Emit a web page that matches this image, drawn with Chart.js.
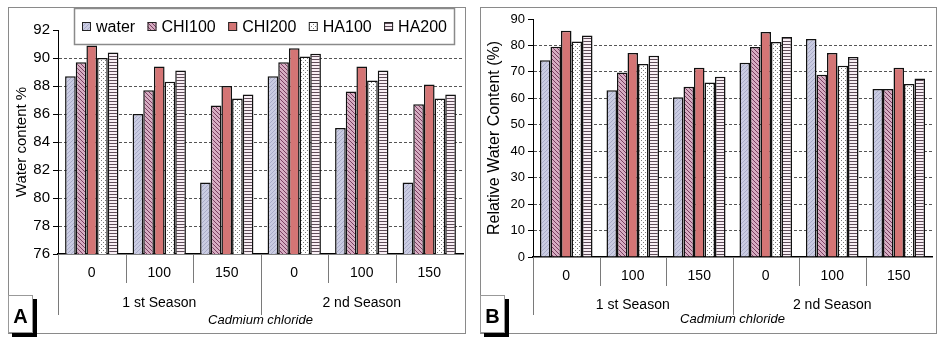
<!DOCTYPE html>
<html>
<head>
<meta charset="utf-8">
<script src="https://cdn.jsdelivr.net/npm/chart.js"></script>
<style>
  body { margin: 0; background: #fff; width: 945px; height: 338px; position: relative; overflow: hidden; }
  .box { position: absolute; top: 7px; height: 327px; border: 1px solid #8a8a8a; box-sizing: border-box; background: #fff; }
  .inner { position: relative; width: 100%; height: 100%; }
  .tag { position: absolute; top: 295px; width: 25px; height: 38px; border: 1px solid #999; box-sizing: border-box; background: #fff;
         box-shadow: 4px 4px 0 #000; font: bold 20px "Liberation Sans", Arial, sans-serif; text-align: center; line-height: 40px; }
</style>
</head>
<body>
<div class="box" style="left:8px;width:458px"><div class="inner"><canvas id="chartA"></canvas></div></div>
<div class="box" style="left:480px;width:457px"><div class="inner"><canvas id="chartB"></canvas></div></div>
<div class="tag" style="left:8px">A</div>
<div class="tag" style="left:480px">B</div>

<script>
// categories
const doses = ['0', '100', '150', '0', '100', '150'];
const seasons = ['1 st Season', '2 nd Season'];
const seriesNames = ['water', 'CHI100', 'CHI200', 'HA100', 'HA200'];

// A: water content %
const wcWater  = [88.7, 86.0, 81.1, 88.7, 85.0, 81.1];
const wcChi100 = [89.7, 87.7, 86.6, 89.7, 87.6, 86.7];
const wcChi200 = [90.9, 89.4, 88.0, 90.7, 89.4, 88.1];
const wcHa100  = [90.0, 88.3, 87.1, 90.1, 88.4, 87.1];
const wcHa200  = [90.4, 89.1, 87.4, 90.3, 89.1, 87.4];
const wcTicks  = [76, 92, 2];   // min, max, step

// B: relative water content (%)
const rwcWater  = [74.4, 63.1, 60.4, 73.5, 82.4, 63.5];
const rwcChi100 = [79.5, 69.8, 64.4, 79.4, 68.9, 63.5];
const rwcChi200 = [85.6, 77.1, 71.6, 85.1, 77.1, 71.6];
const rwcHa100  = [81.5, 73.0, 66.0, 81.3, 72.3, 65.4];
const rwcHa200  = [83.8, 76.1, 68.2, 83.2, 75.6, 67.5];
const rwcTicks  = [0, 90, 10];

const FONT = '"Liberation Sans", Arial, sans-serif';

// fill patterns, like the excel hatch fills
function tile(w, h, bg, fg, pixels) {
    const c = document.createElement('canvas');
    c.width = w; c.height = h;
    const g = c.getContext('2d');
    g.fillStyle = bg; g.fillRect(0, 0, w, h);
    g.fillStyle = fg;
    pixels.forEach(p => g.fillRect(p[0], p[1], 1, 1));
    return g.createPattern(c, 'repeat');
}
const patterns = [
    tile(4, 4, '#cacce2', '#a9abc8', [[3, 0], [2, 1], [1, 2], [0, 3]]),
    tile(4, 4, '#d6adc2', '#7a3d60', [[0, 0], [1, 1], [2, 2], [3, 3]]),
    '#d47575',
    tile(4, 4, '#ffffff', '#7a7a7a', [[0, 0], [2, 2]]),
    tile(3, 3, '#f8eef4', '#5e4c58', [[0, 0], [1, 0], [2, 0]])
];

// dividers of the two-level category axis
const dividers = {
    id: 'dividers',
    afterDraw(chart) {
        const x = chart.scales.x, s = chart.scales.season, a = chart.chartArea;
        const ctx = chart.ctx;
        const deep = s.bottom - 18;
        const n = x.ticks.length;
        ctx.save();
        ctx.strokeStyle = '#7a7a7a';
        ctx.lineWidth = 1;
        const line = (px, y2) => {
            ctx.beginPath();
            ctx.moveTo(px, a.bottom);
            ctx.lineTo(px, y2);
            ctx.stroke();
        };
        for (let i = 1; i < n; i++) {
            const px = Math.round((x.getPixelForTick(i - 1) + x.getPixelForTick(i)) / 2) + 0.5;
            line(px, i === n / 2 ? deep : x.bottom);
        }
        line(Math.round(a.left) + 0.5, deep);
        ctx.restore();
    }
};

// boxed legend sitting over the plot (only chart A)
const legendBox = {
    id: 'legendBox',
    afterDraw(chart, args, o) {
        if (!o.show) return;
        const ctx = chart.ctx;
        ctx.save();
        ctx.fillStyle = '#fff';
        ctx.fillRect(o.left, o.top, o.right - o.left, o.bottom - o.top);
        ctx.strokeStyle = '#8a8a8a';
        ctx.lineWidth = 1.5;
        ctx.strokeRect(o.left + 0.5, o.top + 0.5, o.right - o.left - 1, o.bottom - o.top - 1);
        ctx.font = '16px ' + FONT;
        const sw = 9, sp = 5;
        const ds = chart.data.datasets;
        const widths = ds.map(d => sw + sp + ctx.measureText(d.label).width);
        const gap = (o.right - o.left - 16 - widths.reduce((p, v) => p + v, 0)) / (ds.length - 1);
        const cy = (o.top + o.bottom) / 2;
        let x = o.left + 8;
        ds.forEach((d, i) => {
            ctx.fillStyle = d.backgroundColor;
            ctx.fillRect(x, cy - sw / 2, sw, sw);
            ctx.strokeStyle = '#222';
            ctx.lineWidth = 1;
            ctx.strokeRect(x + 0.5, cy - sw / 2 + 0.5, sw - 1, sw - 1);
            ctx.fillStyle = '#000';
            ctx.textBaseline = 'middle';
            ctx.fillText(d.label, x + sw + sp, cy + 1);
            x += widths[i] + gap;
        });
        ctx.restore();
    }
};

function makeChart(id, values, ticks, cfg) {
    const [min, max, step] = ticks;
    return new Chart(document.getElementById(id), {
        type: 'bar',
        data: {
            labels: doses,
            datasets: values.map((v, i) => ({
                label: seriesNames[i],
                data: v,
                backgroundColor: patterns[i],
                borderColor: '#111',
                borderWidth: 1.5,
                categoryPercentage: 0.79,
                barPercentage: 1.0
            }))
        },
        options: {
            responsive: true,
            maintainAspectRatio: false,
            animation: false,
            layout: { padding: { top: cfg.top, right: cfg.right, left: 0, bottom: 0 } },
            plugins: {
                legend: { display: false },
                tooltip: { enabled: false },
                legendBox: cfg.legend || { show: false }
            },
            scales: {
                y: {
                    min: min, max: max,
                    afterFit: s => { s.width = cfg.yWidth; },
                    ticks: { stepSize: step, color: '#000', padding: 3, font: { family: FONT, size: cfg.tickSize } },
                    grid: {
                        // no gridline at the top and bottom, only the tick marks
                        color: c => (c.tick && (c.tick.value === max || c.tick.value === min)) ? 'rgba(0,0,0,0)' : '#555',
                        tickColor: '#000',
                        tickLength: 5,
                        lineWidth: 1
                    },
                    border: { display: true, color: '#000', width: 1, dash: [3, 2] },
                    title: { display: true, text: cfg.yTitle, color: '#000', padding: { top: 4, bottom: 4 },
                             font: { family: FONT, size: cfg.titleSize } }
                },
                x: {
                    afterFit: s => { s.height = 29; },
                    grid: { display: false, drawTicks: false },
                    border: { display: true, color: '#000', width: 1.5 },
                    ticks: { color: '#000', padding: 11, font: { family: FONT, size: 14 } }
                },
                season: {
                    type: 'category',
                    labels: seasons,
                    position: 'bottom',
                    weight: 1,
                    offset: true,
                    afterFit: s => { s.height = cfg.seasonH; },
                    grid: { display: false, drawTicks: false },
                    border: { display: false },
                    ticks: { color: '#000', padding: cfg.seasonPad, font: { family: FONT, size: 14 } },
                    title: { display: true, text: 'Cadmium chloride', color: '#000', padding: { top: 0, bottom: cfg.titlePad },
                             font: { family: FONT, size: 13, style: 'italic' } }
                }
            }
        },
        plugins: [dividers, legendBox]
    });
}

makeChart('chartA', [wcWater, wcChi100, wcChi200, wcHa100, wcHa200], wcTicks, {
    top: 22, right: 2, yWidth: 49, tickSize: 15, titleSize: 15, yTitle: 'Water content %',
    seasonH: 50, seasonPad: 12, titlePad: 5,
    legend: { show: true, left: 65, right: 446, top: 0, bottom: 37 }
});

makeChart('chartB', [rwcWater, rwcChi100, rwcChi200, rwcHa100, rwcHa200], rwcTicks, {
    top: 11, right: 4, yWidth: 52, tickSize: 13, titleSize: 16, yTitle: 'Relative Water Content (%)',
    seasonH: 47, seasonPad: 11, titlePad: 6
});
</script>
</body>
</html>
